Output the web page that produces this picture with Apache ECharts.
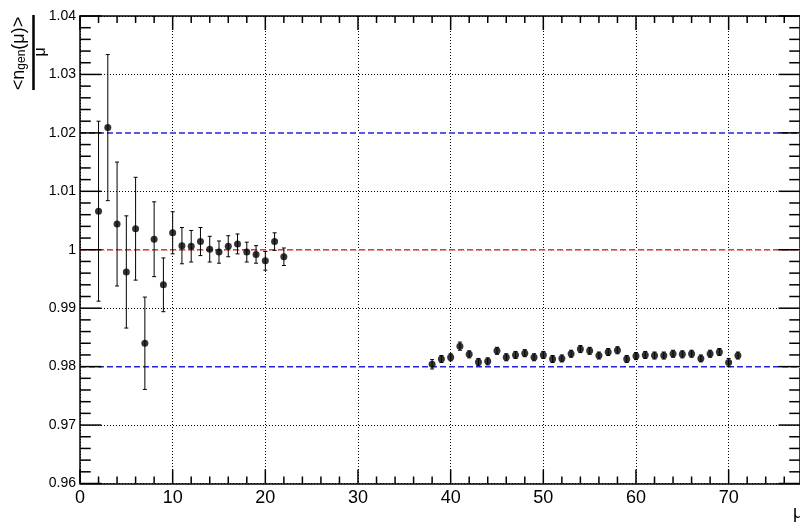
<!DOCTYPE html>
<html><head><meta charset="utf-8">
<script src="https://cdn.jsdelivr.net/npm/echarts@6/dist/echarts.min.js"></script>
<style>html,body{margin:0;padding:0;background:#fff}#c{width:800px;height:522px}</style>
</head><body><div id="c"></div>
<script>
// ---- data ----
const mu = [2,3,4,5,6,7,8,9,10,11,12,13,14,15,16,17,18,19,20,21,22,
  38,39,40,41,42,43,44,45,46,47,48,49,50,51,52,53,54,55,56,57,58,59,60,61,62,63,64,65,66,67,68,69,70,71];
const ratio = [1.0066,1.0209,1.0044,0.9962,1.0036,0.9840,1.0018,0.9940,1.0029,1.0007,1.0006,1.0014,1.0001,0.9996,1.0006,1.0010,0.9996,0.9992,0.9981,1.0014,0.9988,
  0.9804,0.9813,0.9816,0.9835,0.9821,0.9808,0.9809,0.9827,0.9816,0.9820,0.9823,0.9816,0.9820,0.9813,0.9814,0.9822,0.9830,0.9827,0.9819,0.9825,0.9828,0.9813,0.9818,0.9820,0.9819,0.9819,0.9822,0.9821,0.9822,0.9814,0.9822,0.9825,0.9807,0.9819];
const ratioErr = [0.0154,0.0125,0.0106,0.0096,0.0088,0.0079,0.0064,0.0046,0.0036,0.0031,0.0027,0.0024,0.0022,0.0019,0.0018,0.0017,0.0017,0.0015,0.0016,0.0015,0.0015,
  0.0008,0.0006,0.0006,0.0007,0.0006,0.0006,0.0006,0.0006,0.0006,0.0006,0.0006,0.0006,0.0006,0.0006,0.0006,0.0006,0.0006,0.0006,0.0006,0.0006,0.0006,0.0006,0.0006,0.0006,0.0006,0.0006,0.0006,0.0006,0.0006,0.0006,0.0006,0.0006,0.0007,0.0006];
const refLines = [1.02, 1.00, 0.98];
const refColors = ['#2424dc', '#ee3434', '#2424dc'];
const xTickLabels = ['0','10','20','30','40','50','60','70'];
const yTickLabels = ['0.96','0.97','0.98','0.99','1','1.01','1.02','1.03','1.04'];
const xMajorTicks = [0,10,20,30,40,50,60,70];
const xMinorTicks = [2,4,6,8,12,14,16,18,22,24,26,28,32,34,36,38,42,44,46,48,52,54,56,58,62,64,66,68,72,74,76];
const yMajorTicks = [0.96,0.97,0.98,0.99,1.00,1.01,1.02,1.03,1.04];
const yMinorTicks = [0.962,0.964,0.966,0.968,0.972,0.974,0.976,0.978,0.982,0.984,0.986,0.988,0.992,0.994,0.996,0.998,
  1.002,1.004,1.006,1.008,1.012,1.014,1.016,1.018,1.022,1.024,1.026,1.028,1.032,1.034,1.036,1.038];
const X_MIN = 0, X_MAX = 77.7, Y_MIN = 0.96, Y_MAX = 1.04;

const font = '"Liberation Sans", Arial, Helvetica, sans-serif';
const chart = echarts.init(document.getElementById('c'));

// tick descriptors: [value, kind]  kind 0 = x major, 1 = x minor, 2 = y major, 3 = y minor
const tickData = []
  .concat(xMajorTicks.map(v => [v, 0]))
  .concat(xMinorTicks.map(v => [v, 1]))
  .concat(yMajorTicks.map(v => [v, 2]))
  .concat(yMinorTicks.map(v => [v, 3]));
const tickLen = [14, 7, 21.5, 10.75];

const axisLine = { show: true, onZero: false, lineStyle: { color: '#000', width: 1.5 } };
const option = {
  animation: false,
  backgroundColor: '#fff',
  grid: { left: 80, top: 16, width: 723.5, height: 467.5 },
  xAxis: [
    { type: 'value', position: 'bottom', min: X_MIN, max: X_MAX, interval: 10, axisLine: axisLine,
      axisTick: { show: false },
      axisLabel: { show: true, fontSize: 18, fontFamily: font, color: '#000', margin: 6, showMaxLabel: false,
        formatter: v => { const i = Math.round(v / 10); return (Math.abs(v - i * 10) < 1e-6 && xTickLabels[i]) ? xTickLabels[i] : ''; } },
      splitLine: { show: true, lineStyle: { color: '#000', width: 1, type: [1, 2] } } },
    { type: 'value', position: 'top', min: X_MIN, max: X_MAX, interval: 10, axisLine: axisLine,
      axisTick: { show: false }, axisLabel: { show: false }, splitLine: { show: false } }
  ],
  yAxis: [
    { type: 'value', position: 'left', min: Y_MIN, max: Y_MAX, interval: 0.01, axisLine: axisLine,
      axisTick: { show: false },
      axisLabel: { show: true, fontSize: 14, fontFamily: font, color: '#000', margin: 4,
        formatter: v => yTickLabels[Math.round((v - Y_MIN) / 0.01)] || '' },
      splitLine: { show: true, lineStyle: { color: '#000', width: 1, type: [1, 2] } } },
    { type: 'value', position: 'right', min: Y_MIN, max: Y_MAX, interval: 0.01, axisLine: axisLine,
      axisTick: { show: false }, axisLabel: { show: false }, splitLine: { show: false } }
  ],
  graphic: [
    { type: 'text', x: 19, y: 53.5, rotation: Math.PI / 2, z: 10,
      style: { text: '<n{s|gen}(μ)>', fontSize: 18, fontFamily: font, fill: '#000', align: 'center', verticalAlign: 'middle',
        rich: { s: { fontSize: 12, fontFamily: font, lineHeight: 9, verticalAlign: 'bottom', fill: '#000' } } } },
    { type: 'line', z: 10, shape: { x1: 33.5, y1: 15, x2: 33.5, y2: 90 }, style: { stroke: '#000', lineWidth: 2.5 } },
    { type: 'text', x: 41, y: 52, rotation: Math.PI / 2, z: 10,
      style: { text: 'μ', fontSize: 16, fontFamily: font, fill: '#000', align: 'center', verticalAlign: 'middle' } },
    { type: 'text', x: 793, y: 513, z: 10,
      style: { text: 'μ', fontSize: 18, fontFamily: font, fill: '#000', align: 'left', verticalAlign: 'middle' } }
  ],
  series: [
    { // frame ticks (bottom/top and left/right), placed through the axes
      type: 'custom', z: 4,
      data: tickData,
      renderItem: (params, api) => {
        const v = api.value(0), k = api.value(1), len = tickLen[k];
        const st = { stroke: '#000', lineWidth: 1.5 };
        if (k < 2) {
          const b = api.coord([v, Y_MIN]), t = api.coord([v, Y_MAX]);
          return { type: 'group', children: [
            { type: 'line', shape: { x1: b[0], y1: b[1], x2: b[0], y2: b[1] - len }, style: st },
            { type: 'line', shape: { x1: t[0], y1: t[1], x2: t[0], y2: t[1] + len }, style: st }
          ] };
        }
        const l = api.coord([X_MIN, v]), r = api.coord([X_MAX, v]);
        return { type: 'group', children: [
          { type: 'line', shape: { x1: l[0], y1: l[1], x2: l[0] + len, y2: l[1] }, style: st },
          { type: 'line', shape: { x1: r[0], y1: r[1], x2: r[0] - len, y2: r[1] }, style: st }
        ] };
      }
    },
    { // reference dashed lines
      type: 'custom', z: 2, silent: true,
      data: refLines.map((v, i) => [v, i]),
      renderItem: (params, api) => {
        const v = api.value(0), i = api.value(1);
        const a = api.coord([X_MIN, v]), b = api.coord([X_MAX, v]);
        return { type: 'group', children: [
          { type: 'line', shape: { x1: a[0] + 1, y1: a[1], x2: b[0], y2: b[1] }, style: { stroke: '#fff', lineWidth: 2 } },
          { type: 'line', shape: { x1: a[0], y1: a[1], x2: b[0], y2: b[1] },
            style: { stroke: refColors[i], lineWidth: 1.5, lineDash: [6, 3] } }
        ] };
      }
    },
    { // error bars
      type: 'custom', z: 3, silent: true,
      data: mu.map((m, i) => [m, ratio[i], ratioErr[i]]),
      encode: { x: 0, y: 1 },
      renderItem: (params, api) => {
        const x = api.value(0), y = api.value(1), e = api.value(2);
        const p0 = api.coord([x, y + e]), p1 = api.coord([x, y - e]);
        const c = 2, st = { stroke: '#000', lineWidth: 1 };
        return { type: 'group', children: [
          { type: 'line', shape: { x1: p0[0], y1: p0[1], x2: p1[0], y2: p1[1] }, style: st },
          { type: 'line', shape: { x1: p0[0] - c, y1: p0[1], x2: p0[0] + c, y2: p0[1] }, style: st },
          { type: 'line', shape: { x1: p1[0] - c, y1: p1[1], x2: p1[0] + c, y2: p1[1] }, style: st }
        ] };
      }
    },
    { // data points
      type: 'scatter', z: 5, silent: true,
      data: mu.map((m, i) => [m, ratio[i]]),
      symbol: 'circle', symbolSize: 7,
      itemStyle: { color: '#000' }
    }
  ]
};
chart.setOption(option);
</script>
</body></html>
